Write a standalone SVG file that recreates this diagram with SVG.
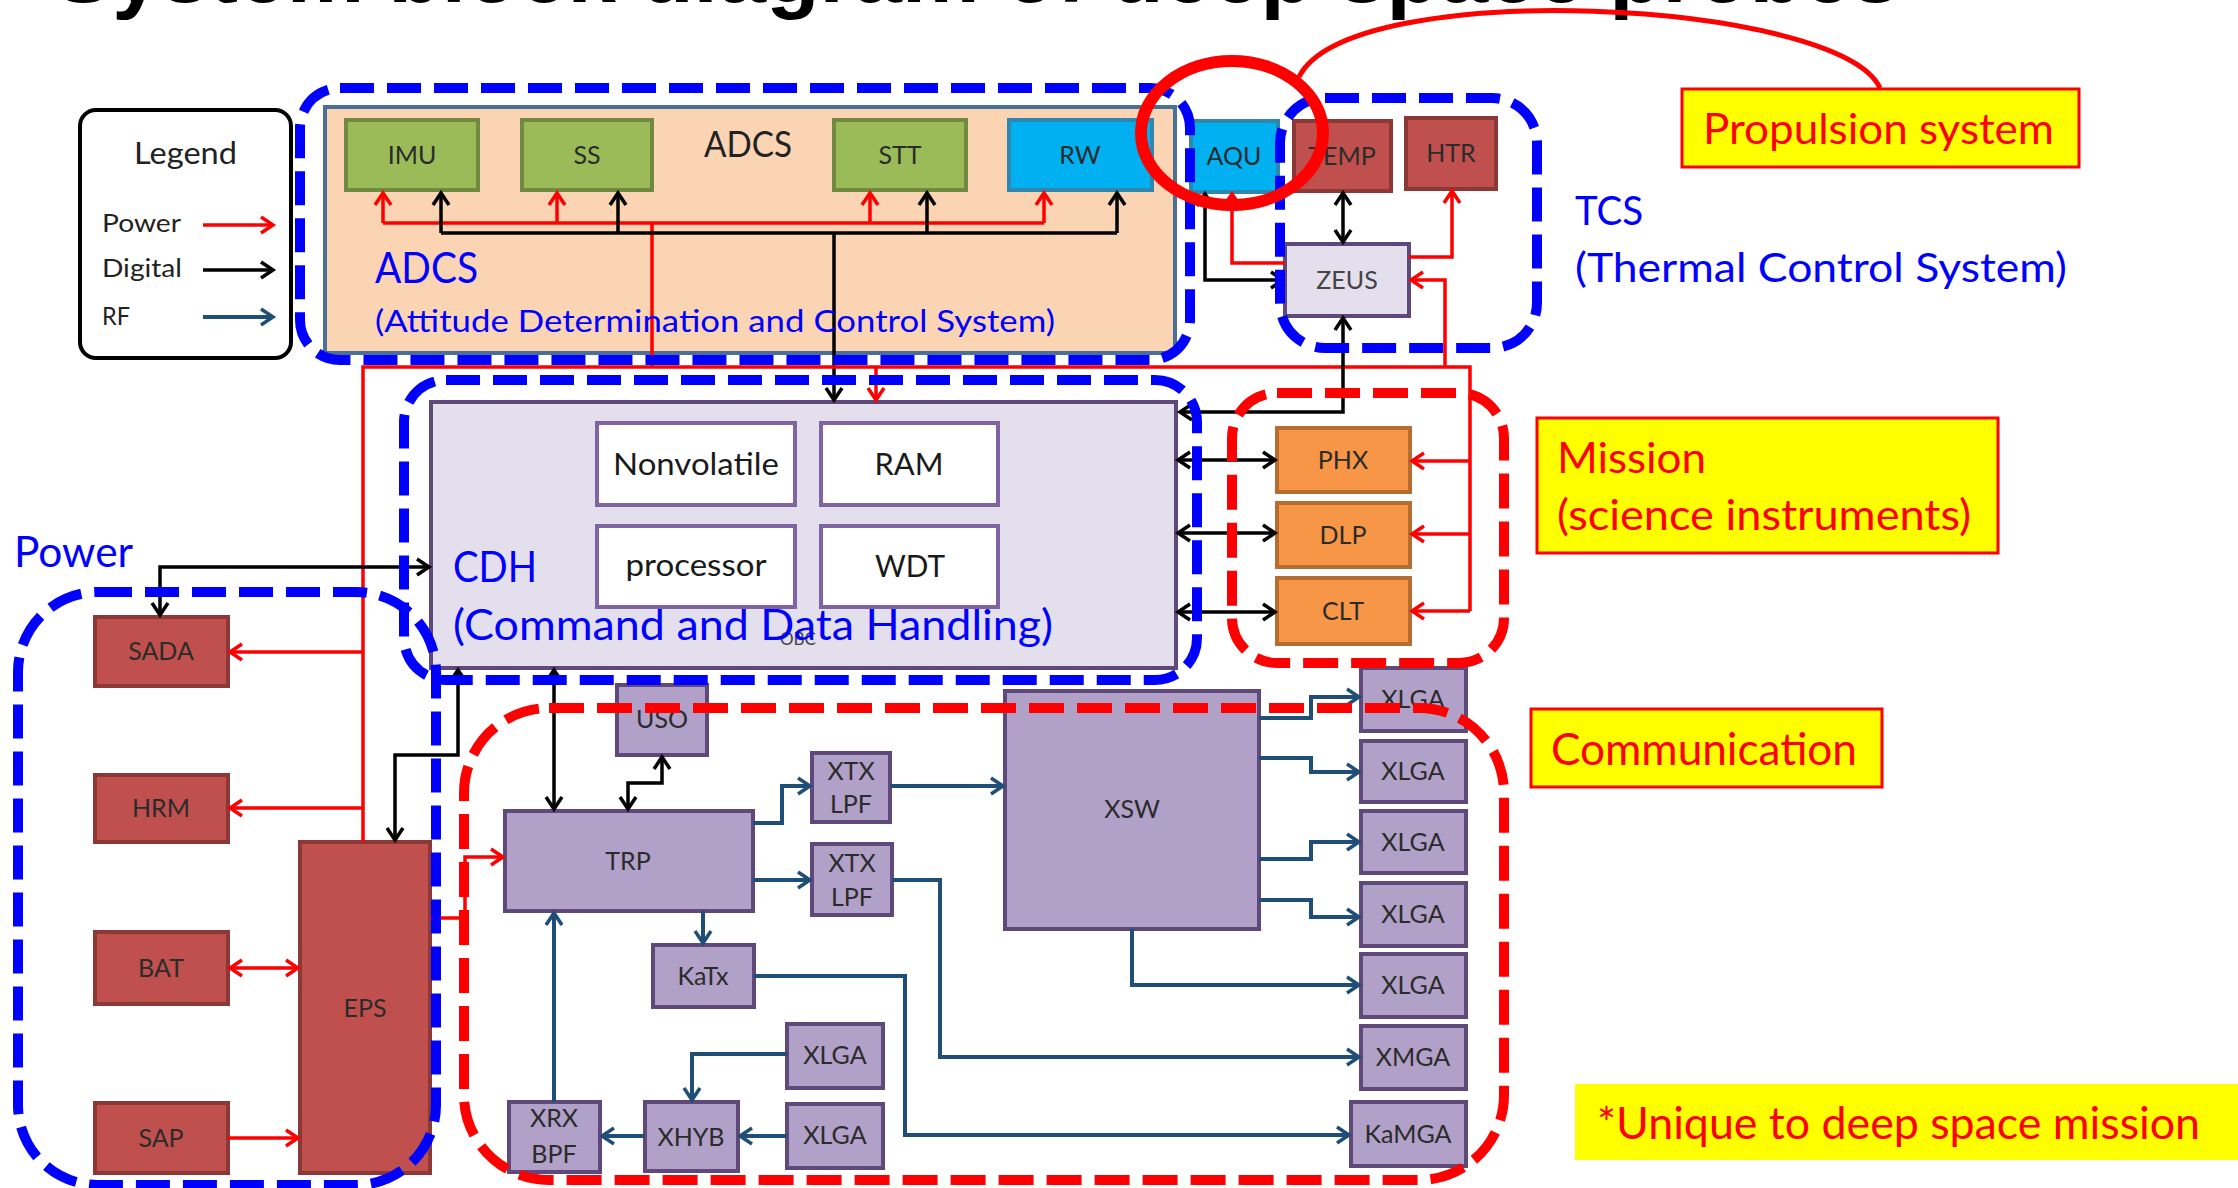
<svg xmlns="http://www.w3.org/2000/svg" width="2238" height="1188" viewBox="0 0 2238 1188">
<defs>
<style>
.lbl{font-family:Lato,"Open Sans","Liberation Sans",sans-serif;font-size:25px;fill:#2b2b2b;text-anchor:middle}
.lbl2{font-family:Lato,"Open Sans","Liberation Sans",sans-serif;font-size:31px;fill:#1a1a1a;text-anchor:middle}
.blue{font-family:Lato,"Open Sans","Liberation Sans",sans-serif;fill:#0000FF}
.redt{font-family:Lato,"Open Sans","Liberation Sans",sans-serif;fill:#FF0000}
.leg{font-family:Lato,"Open Sans","Liberation Sans",sans-serif;font-size:25px;fill:#222}
.grn{fill:#9BBB59;stroke:#71893F;stroke-width:4}
.cyan{fill:#00B0F0;stroke:#2E87AE;stroke-width:4}
.rednode{fill:#C0504D;stroke:#8C3836;stroke-width:4}
.org{fill:#F79646;stroke:#B66D31;stroke-width:4}
.pur{fill:#B1A0C7;stroke:#5F497A;stroke-width:4}
.lav{fill:#E4DFEC;stroke:#5F497A;stroke-width:4}
.wht{fill:#FFFFFF;stroke:#8064A2;stroke-width:4}
.pw{fill:none;stroke:#FF0000;stroke-width:3.5}
.dg{fill:none;stroke:#000000;stroke-width:3.5}
.rf{fill:none;stroke:#1F4E79;stroke-width:4}
.dashB{fill:none;stroke:#0000FF;stroke-width:10;stroke-dasharray:34 13}
.dashR{fill:none;stroke:#FF0000;stroke-width:10;stroke-dasharray:35 13}
.yel{fill:#FFFF00;stroke:#FF0000;stroke-width:3}
</style>
<marker id="aR" markerUnits="userSpaceOnUse" markerWidth="16" markerHeight="18" refX="13" refY="9" orient="auto-start-reverse" overflow="visible"><path d="M1,1 L13,9 L1,17" fill="none" stroke="#FF0000" stroke-width="3.5"/></marker>
<marker id="aK" markerUnits="userSpaceOnUse" markerWidth="16" markerHeight="18" refX="13" refY="9" orient="auto-start-reverse" overflow="visible"><path d="M1,1 L13,9 L1,17" fill="none" stroke="#000000" stroke-width="3.5"/></marker>
<marker id="aB" markerUnits="userSpaceOnUse" markerWidth="16" markerHeight="18" refX="13" refY="9" orient="auto-start-reverse" overflow="visible"><path d="M1,1 L13,9 L1,17" fill="none" stroke="#1F4E79" stroke-width="3.5"/></marker>
</defs>
<rect width="2238" height="1188" fill="#FFFFFF"/>
<text x="54" y="2" font-family="'Liberation Sans',Arial,sans-serif" font-weight="bold" font-size="86" textLength="1846" lengthAdjust="spacingAndGlyphs" fill="#000">System block diagram of deep space probes</text>

<g id="legend">
<rect x="80" y="110" width="211" height="248" rx="16" fill="#FFF" stroke="#000" stroke-width="4"/>
<text x="134" y="164" class="leg" textLength="103" lengthAdjust="spacingAndGlyphs" style="font-size:30px">Legend</text>
<text x="102" y="232" class="leg" textLength="79" lengthAdjust="spacingAndGlyphs">Power</text>
<text x="102" y="277" class="leg" textLength="80" lengthAdjust="spacingAndGlyphs">Digital</text>
<text x="102" y="325" class="leg" textLength="28" lengthAdjust="spacingAndGlyphs">RF</text>
<line x1="203" y1="225" x2="273" y2="225" class="pw" marker-end="url(#aR)"/>
<line x1="203" y1="270" x2="273" y2="270" class="dg" marker-end="url(#aK)"/>
<line x1="203" y1="317" x2="273" y2="317" class="rf" marker-end="url(#aB)"/>
</g>

<g id="adcs-panel"><rect x="325" y="107" width="850" height="246" fill="#FBD4B4" stroke="#4A7095" stroke-width="4"/></g>
<g id="IMU"><rect x="346" y="120" width="132" height="70" class="grn"/><text x="412" y="164" class="lbl">IMU</text></g>
<g id="SS"><rect x="522" y="120" width="130" height="70" class="grn"/><text x="587" y="164" class="lbl">SS</text></g>
<g id="STT"><rect x="834" y="120" width="132" height="70" class="grn"/><text x="900" y="164" class="lbl">STT</text></g>
<g id="RW"><rect x="1009" y="120" width="143" height="70" class="cyan"/><text x="1080" y="164" class="lbl">RW</text></g>

<g id="AQU"><rect x="1191" y="121" width="87" height="71" class="cyan"/><text x="1234" y="165" class="lbl">AQU</text></g>
<g id="TEMP"><rect x="1294" y="121" width="97" height="70" class="rednode"/><text x="1342" y="165" class="lbl">TEMP</text></g>
<g id="HTR"><rect x="1406" y="118" width="90" height="71" class="rednode"/><text x="1451" y="162" class="lbl">HTR</text></g>
<g id="ZEUS"><rect x="1285" y="244" width="124" height="72" class="lav"/><text x="1347" y="289" class="lbl" style="fill:#444">ZEUS</text></g>

<g id="CDH"><rect x="431" y="402" width="745" height="266" class="lav" stroke-width="5"/>
<text x="780" y="645" font-family="Lato,'Liberation Sans',sans-serif" font-size="17" fill="#444">OBC</text></g>
<g id="Nonvolatile"><rect x="597" y="423" width="198" height="82" class="wht"/><text x="696" y="475" class="lbl2" textLength="166" lengthAdjust="spacingAndGlyphs">Nonvolatile</text></g>
<g id="RAM"><rect x="821" y="423" width="177" height="82" class="wht"/><text x="909" y="475" class="lbl2" textLength="69" lengthAdjust="spacingAndGlyphs">RAM</text></g>
<g id="processor"><rect x="597" y="526" width="198" height="81" class="wht"/><text x="696" y="576" class="lbl2" textLength="141" lengthAdjust="spacingAndGlyphs">processor</text></g>
<g id="WDT"><rect x="821" y="526" width="177" height="81" class="wht"/><text x="910" y="577" class="lbl2" textLength="70" lengthAdjust="spacingAndGlyphs">WDT</text></g>

<g id="PHX"><rect x="1277" y="428" width="133" height="64" class="org"/><text x="1343" y="469" class="lbl">PHX</text></g>
<g id="DLP"><rect x="1277" y="503" width="133" height="64" class="org"/><text x="1343" y="544" class="lbl">DLP</text></g>
<g id="CLT"><rect x="1277" y="578" width="133" height="66" class="org"/><text x="1343" y="620" class="lbl">CLT</text></g>

<g id="SADA"><rect x="95" y="617" width="133" height="69" class="rednode"/><text x="161" y="660" class="lbl">SADA</text></g>
<g id="HRM"><rect x="95" y="775" width="133" height="67" class="rednode"/><text x="161" y="817" class="lbl">HRM</text></g>
<g id="BAT"><rect x="95" y="932" width="133" height="72" class="rednode"/><text x="161" y="977" class="lbl">BAT</text></g>
<g id="SAP"><rect x="95" y="1103" width="133" height="70" class="rednode"/><text x="161" y="1147" class="lbl">SAP</text></g>
<g id="EPS"><rect x="300" y="842" width="130" height="331" class="rednode"/><text x="365" y="1017" class="lbl">EPS</text></g>

<g id="USO"><rect x="617" y="685" width="90" height="70" class="pur"/><text x="662" y="728" class="lbl">USO</text></g>
<g id="TRP"><rect x="505" y="811" width="248" height="100" class="pur"/><text x="628" y="870" class="lbl">TRP</text></g>
<g id="XTXLPF1"><rect x="812" y="753" width="78" height="69" class="pur"/><text x="851" y="780" class="lbl">XTX</text><text x="851" y="813" class="lbl">LPF</text></g>
<g id="XTXLPF2"><rect x="812" y="844" width="80" height="71" class="pur"/><text x="852" y="872" class="lbl">XTX</text><text x="852" y="906" class="lbl">LPF</text></g>
<g id="XSW"><rect x="1005" y="691" width="254" height="238" class="pur"/><text x="1132" y="818" class="lbl">XSW</text></g>
<g id="XLGA1"><rect x="1361" y="668" width="105" height="63" class="pur"/><text x="1413" y="708" class="lbl">XLGA</text></g>
<g id="XLGA2"><rect x="1361" y="741" width="105" height="61" class="pur"/><text x="1413" y="780" class="lbl">XLGA</text></g>
<g id="XLGA3"><rect x="1361" y="811" width="105" height="62" class="pur"/><text x="1413" y="851" class="lbl">XLGA</text></g>
<g id="XLGA4"><rect x="1361" y="883" width="105" height="63" class="pur"/><text x="1413" y="923" class="lbl">XLGA</text></g>
<g id="XLGA5"><rect x="1361" y="954" width="105" height="63" class="pur"/><text x="1413" y="994" class="lbl">XLGA</text></g>
<g id="XMGA"><rect x="1361" y="1026" width="105" height="63" class="pur"/><text x="1413" y="1066" class="lbl">XMGA</text></g>
<g id="KaMGA"><rect x="1351" y="1102" width="115" height="64" class="pur"/><text x="1408" y="1143" class="lbl">KaMGA</text></g>
<g id="KaTx"><rect x="653" y="945" width="101" height="62" class="pur"/><text x="703" y="985" class="lbl">KaTx</text></g>
<g id="XLGA6"><rect x="787" y="1024" width="96" height="64" class="pur"/><text x="835" y="1064" class="lbl">XLGA</text></g>
<g id="XLGA7"><rect x="787" y="1104" width="96" height="64" class="pur"/><text x="835" y="1144" class="lbl">XLGA</text></g>
<g id="XHYB"><rect x="645" y="1102" width="93" height="69" class="pur"/><text x="691" y="1146" class="lbl">XHYB</text></g>
<g id="XRXBPF"><rect x="509" y="1102" width="91" height="70" class="pur"/><text x="554" y="1127" class="lbl">XRX</text><text x="554" y="1163" class="lbl">BPF</text></g>

<g id="connectors">
<path d="M383,223 H1044" class="pw"/>
<path d="M383,223 V193" class="pw" marker-end="url(#aR)"/>
<path d="M557,223 V193" class="pw" marker-end="url(#aR)"/>
<path d="M870,223 V193" class="pw" marker-end="url(#aR)"/>
<path d="M1044,223 V193" class="pw" marker-end="url(#aR)"/>
<path d="M652,223 V367" class="pw" stroke-width="3"/>
<path d="M441,233 H1117" class="dg"/>
<path d="M441,233 V193" class="dg" marker-end="url(#aK)"/>
<path d="M618,233 V193" class="dg" marker-end="url(#aK)"/>
<path d="M927,233 V193" class="dg" marker-end="url(#aK)"/>
<path d="M1117,233 V193" class="dg" marker-end="url(#aK)"/>
<path d="M834,233 V400" class="dg" stroke-width="3" marker-end="url(#aK)"/>
<path d="M363,842 V367 H1470 V611" class="pw" stroke-width="3"/>
<path d="M876,367 V400" class="pw" marker-end="url(#aR)"/>
<path d="M363,652 H230" class="pw" marker-end="url(#aR)"/>
<path d="M363,808 H230" class="pw" marker-end="url(#aR)"/>
<path d="M1470,461 H1412" class="pw" marker-end="url(#aR)"/>
<path d="M1470,534 H1412" class="pw" marker-end="url(#aR)"/>
<path d="M1470,611 H1412" class="pw" marker-end="url(#aR)"/>
<path d="M1445,367 V280 H1411" class="pw" marker-end="url(#aR)"/>
<path d="M1285,263 H1232 V194" class="pw" marker-end="url(#aR)"/>
<path d="M1409,257 H1452 V191" class="pw" marker-end="url(#aR)"/>
<path d="M230,968 H298" class="pw" marker-start="url(#aR)" marker-end="url(#aR)"/>
<path d="M228,1138 H298" class="pw" marker-end="url(#aR)"/>
<path d="M430,918 H465 V857 H503" class="pw" marker-end="url(#aR)"/>
<path d="M1205,194 V280 H1283" class="dg" marker-start="url(#aK)" marker-end="url(#aK)"/>
<path d="M1343,193 V242" class="dg" marker-start="url(#aK)" marker-end="url(#aK)"/>
<path d="M1343,318 V412 H1180" class="dg" marker-start="url(#aK)" marker-end="url(#aK)"/>
<path d="M1178,460 H1275" class="dg" marker-start="url(#aK)" marker-end="url(#aK)"/>
<path d="M1178,533 H1275" class="dg" marker-start="url(#aK)" marker-end="url(#aK)"/>
<path d="M1178,612 H1275" class="dg" marker-start="url(#aK)" marker-end="url(#aK)"/>
<path d="M160,615 V567 H429" class="dg" marker-start="url(#aK)" marker-end="url(#aK)"/>
<path d="M458,670 V755 H395 V840" class="dg" marker-start="url(#aK)" marker-end="url(#aK)"/>
<path d="M554,670 V809" class="dg" marker-start="url(#aK)" marker-end="url(#aK)"/>
<path d="M662,757 V783 H628 V809" class="dg" marker-start="url(#aK)" marker-end="url(#aK)"/>
<path d="M753,823 H782 V786 H810" class="rf" marker-end="url(#aB)"/>
<path d="M753,880 H810" class="rf" marker-end="url(#aB)"/>
<path d="M890,786 H1003" class="rf" marker-end="url(#aB)"/>
<path d="M892,880 H940 V1057 H1359" class="rf" marker-end="url(#aB)"/>
<path d="M703,911 V943" class="rf" marker-end="url(#aB)"/>
<path d="M754,976 H905 V1135 H1349" class="rf" marker-end="url(#aB)"/>
<path d="M1259,718 H1311 V697 H1359" class="rf" marker-end="url(#aB)"/>
<path d="M1259,758 H1311 V772 H1359" class="rf" marker-end="url(#aB)"/>
<path d="M1259,859 H1311 V842 H1359" class="rf" marker-end="url(#aB)"/>
<path d="M1259,900 H1311 V917 H1359" class="rf" marker-end="url(#aB)"/>
<path d="M1132,929 V985 H1359" class="rf" marker-end="url(#aB)"/>
<path d="M787,1054 H692 V1100" class="rf" marker-end="url(#aB)"/>
<path d="M787,1136 H740" class="rf" marker-end="url(#aB)"/>
<path d="M645,1136 H602" class="rf" marker-end="url(#aB)"/>
<path d="M554,1102 V913" class="rf" marker-end="url(#aB)"/>
</g>

<g id="labels">
<text x="704" y="157" font-family="Lato,'Liberation Sans',sans-serif" font-size="37" fill="#222" textLength="88" lengthAdjust="spacingAndGlyphs">ADCS</text>
<text x="375" y="283" class="blue" font-size="42" textLength="103" lengthAdjust="spacingAndGlyphs">ADCS</text>
<text x="375" y="332" class="blue" font-size="31" textLength="680" lengthAdjust="spacingAndGlyphs">(Attitude Determination and Control System)</text>
<text x="453" y="582" class="blue" font-size="42" textLength="84" lengthAdjust="spacingAndGlyphs">CDH</text>
<text x="453" y="640" class="blue" font-size="42" textLength="600" lengthAdjust="spacingAndGlyphs">(Command and Data Handling)</text>
<text x="14" y="567" class="blue" font-size="42" textLength="119" lengthAdjust="spacingAndGlyphs">Power</text>
<text x="1575" y="225" class="blue" font-size="40" textLength="68" lengthAdjust="spacingAndGlyphs">TCS</text>
<text x="1575" y="282" class="blue" font-size="40" textLength="492" lengthAdjust="spacingAndGlyphs">(Thermal Control System)</text>
</g>

<g id="groups">
<rect id="adcs-group" x="300" y="88" width="890" height="272" rx="40" class="dashB"/>
<rect id="tcs-group" x="1280" y="98" width="257" height="250" rx="45" class="dashB"/>
<rect id="cdh-group" x="404" y="380" width="793" height="300" rx="42" class="dashB"/>
<rect id="power-group" x="18" y="592" width="418" height="593" rx="80" class="dashB"/>
<rect id="mission-group" x="1232" y="393" width="272" height="270" rx="45" class="dashR"/>
<rect id="comm-group" x="464" y="708" width="1040" height="472" rx="85" class="dashR"/>
</g>

<g id="propulsion">
<ellipse cx="1232" cy="133" rx="91" ry="72" fill="none" stroke="#FF0000" stroke-width="12"/>
<path d="M1299,77 C1350,-25 1840,0 1880,88" fill="none" stroke="#FF0000" stroke-width="5"/>
<rect x="1682" y="89" width="397" height="78" class="yel"/>
<text x="1703" y="144" class="redt" font-size="42" textLength="351" lengthAdjust="spacingAndGlyphs">Propulsion system</text>
</g>
<g id="mission-label">
<rect x="1537" y="418" width="461" height="135" class="yel"/>
<text x="1557" y="473" class="redt" font-size="42" textLength="149" lengthAdjust="spacingAndGlyphs">Mission</text>
<text x="1557" y="530" class="redt" font-size="42" textLength="414" lengthAdjust="spacingAndGlyphs">(science instruments)</text>
</g>
<g id="comm-label">
<rect x="1531" y="709" width="351" height="78" class="yel"/>
<text x="1551" y="765" class="redt" font-size="44" textLength="306" lengthAdjust="spacingAndGlyphs">Communication</text>
</g>
<g id="unique-note">
<rect x="1575" y="1084" width="663" height="76" fill="#FFFF00"/>
<text x="1597" y="1139" class="redt" font-size="44" textLength="603" lengthAdjust="spacingAndGlyphs">*Unique to deep space mission</text>
</g>
</svg>
